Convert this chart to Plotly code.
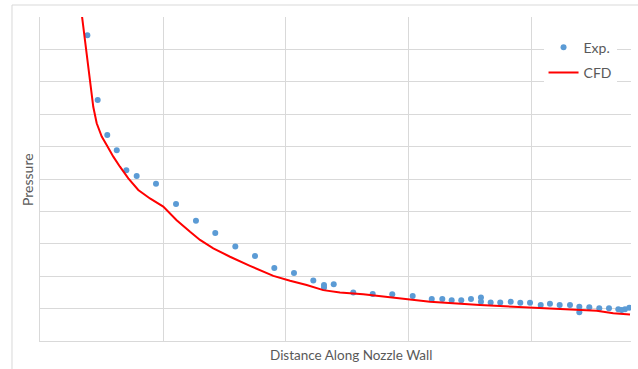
import plotly.graph_objects as go

exp_x = [0.385, 0.469, 0.547, 0.624, 0.702, 0.786, 0.943, 1.106, 1.268, 1.425,
         1.588, 1.748, 1.905, 2.065, 2.222, 2.309, 2.309, 2.388, 2.547, 2.705,
         2.864, 3.030, 3.185, 3.271, 3.347, 3.425, 3.504, 3.585, 3.585, 3.664,
         3.742, 3.827, 3.905, 3.984, 4.071, 4.146, 4.225, 4.309, 4.385, 4.385,
         4.466, 4.547, 4.626, 4.702, 4.729, 4.756, 4.791]
exp_y = [9.44, 7.44, 6.36, 5.89, 5.27, 5.09, 4.85, 4.23, 3.71, 3.33,
         2.92, 2.62, 2.25, 2.10, 1.87, 1.73, 1.65, 1.75, 1.50, 1.45,
         1.44, 1.39, 1.30, 1.30, 1.26, 1.26, 1.30, 1.34, 1.21, 1.19,
         1.19, 1.21, 1.18, 1.18, 1.11, 1.15, 1.11, 1.11, 1.06, 0.89,
         1.04, 1.01, 1.01, 0.98, 0.96, 0.98, 1.03]

# CFD curve
cfd_x = [0.333, 0.428, 0.433, 0.461, 0.502, 0.542, 0.596, 0.650, 0.718, 0.799,
         0.894, 1.002, 1.111, 1.220, 1.301, 1.409, 1.545, 1.707, 1.762, 1.897,
         2.033, 2.168, 2.303, 2.439, 2.628, 2.900, 3.171, 3.577, 3.984, 4.254,
         4.526, 4.661, 4.797]
cfd_y = [10.28, 7.50, 7.23, 6.72, 6.31, 6.05, 5.69, 5.38, 5.02, 4.66,
         4.40, 4.15, 3.73, 3.37, 3.12, 2.86, 2.60, 2.32, 2.23, 2.01,
         1.86, 1.73, 1.57, 1.50, 1.44, 1.32, 1.21, 1.11, 1.03, 0.99,
         0.93, 0.86, 0.82]

FONT = "Lato, 'Open Sans', sans-serif"
GRID = "#d9d9d9"
TXT = "#595959"

fig = go.Figure()
fig.add_trace(go.Scatter(x=exp_x, y=exp_y, mode="markers", name="Exp.",
                         legendgroup="a",
                         marker=dict(color="#5b9bd5", size=6)))
fig.add_trace(go.Scatter(x=cfd_x, y=cfd_y, mode="lines", name="CFD",
                         legendgroup="b",
                         line=dict(color="#ff0000", width=2)))

fig.update_layout(
    width=638, height=369,
    margin=dict(l=40, r=7, t=17, b=28),
    paper_bgcolor="white", plot_bgcolor="white",
    font=dict(family=FONT, size=13.5, color=TXT),
    showlegend=True,
    legend=dict(x=0.852, y=0.955, xanchor="left", yanchor="top",
                bgcolor="white", traceorder="grouped", tracegroupgap=4,
                font=dict(family=FONT, size=14, color=TXT)),
    xaxis=dict(range=[0, 4.805], dtick=1, tick0=0, showgrid=True, gridcolor=GRID,
               gridwidth=1, showticklabels=False, ticks="", zeroline=False,
               showline=True, linecolor=GRID, linewidth=1),
    yaxis=dict(range=[0, 10], dtick=1, tick0=0, showgrid=True, gridcolor=GRID,
               gridwidth=1, showticklabels=False, ticks="", zeroline=False,
               showline=True, linecolor=GRID, linewidth=1),
    shapes=[dict(type="rect", xref="paper", yref="paper",
                 x0=-0.0474, x1=1.02, y0=-0.1, y1=1.037,
                 line=dict(color=GRID, width=1), fillcolor="rgba(0,0,0,0)",
                 layer="below")],
    annotations=[
        dict(text="Distance Along Nozzle Wall", xref="paper", yref="paper",
             x=(351 - 40) / 591, y=-(355 - 341) / 324, showarrow=False,
             xanchor="center", yanchor="middle",
             font=dict(family=FONT, size=13.5, color=TXT)),
        dict(text="Pressure", xref="paper", yref="paper",
             x=-(40 - 27) / 591, y=(341 - 180) / 324, showarrow=False,
             textangle=-90, xanchor="center", yanchor="middle",
             font=dict(family=FONT, size=14, color=TXT)),
    ],
)

fig.write_html("out.html",
               config={"displayModeBar": False},
               post_script="document.body.style.margin='0';document.body.style.overflow='hidden';")
